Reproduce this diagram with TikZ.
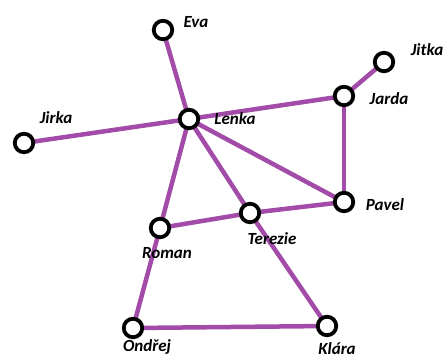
\documentclass[tikz,border=0pt]{standalone}
\usepackage{fontspec}
\setsansfont{Carlito}
\usetikzlibrary{positioning}
\usetikzlibrary{backgrounds}
\definecolor{hrana}{RGB}{163,75,168}

\tikzset{
  vrchol/.style={circle, draw=black, fill=white, line width=3.8pt, minimum size=18.5pt, inner sep=0pt},
  hr/.style={draw=hrana, line width=4.5pt},
  jmeno/.style={font=\sffamily\bfseries\itshape\fontsize{17}{17}\selectfont, inner sep=0pt}
}

\begin{document}
\begin{tikzpicture}[x=1pt, y=-1pt]
                \useasboundingbox (0,0) rectangle (446,359);
                \node[vrchol] (eva) at (163,30){};
                \node[vrchol] (jirka) at (24,143){};
                \node[vrchol] (lenka) at (189,119){};
                \node[vrchol] (jitka) at (384,62){};
                \node[vrchol] (jarda) at (344,96){};
                \node[vrchol] (pavel) at (344,202){};
                \node[vrchol] (terezie) at (250,213){};
                \node[vrchol] (roman) at (160,228){};
                \node[vrchol] (ondrej) at (133,328){};
                \node[vrchol] (klara) at (327,326){};
                \begin{scope}[on background layer]
                \draw[hr] (eva.center) -- (lenka.center);
                \draw[hr] (jirka.center) -- (lenka.center);
                \draw[hr] (lenka.center) -- (jarda.center);
                \draw[hr] (jarda.center) -- (jitka.center);
                \draw[hr] (jarda.center) -- (pavel.center);
                \draw[hr] (lenka.center) -- (pavel.center);
                \draw[hr] (lenka.center) -- (roman.center);
                \draw[hr] (lenka.center) -- (terezie.center);
                \draw[hr] (terezie.center) -- (klara.center);
                \draw[hr] (roman.center) -- (terezie.center);
                \draw[hr] (terezie.center) -- (pavel.center);
                \draw[hr] (roman.center) -- (ondrej.center);
                \draw[hr] (ondrej.center) -- (klara.center);
                \end{scope}
                \node[jmeno] (eva-j) at (196,22){Eva};
                \node[jmeno] (jirka-j) at (56,118){Jirka};
                \node[jmeno] (lenka-j) at (235,119){Lenka};
                \node[jmeno] (jitka-j) at (427,50){Jitka};
                \node[jmeno] (jarda-j) at (389,99){Jarda};
                \node[jmeno] (pavel-j) at (385,205){Pavel};
                \node[jmeno] (terezie-j) at (272,239){Terezie};
                \node[jmeno] (roman-j) at (167,253){Roman};
                \node[jmeno] (ondrej-j) at (147,347){Ondřej};
                \node[jmeno] (klara-j) at (337,349){Klára};
              \end{tikzpicture}
\end{document}
